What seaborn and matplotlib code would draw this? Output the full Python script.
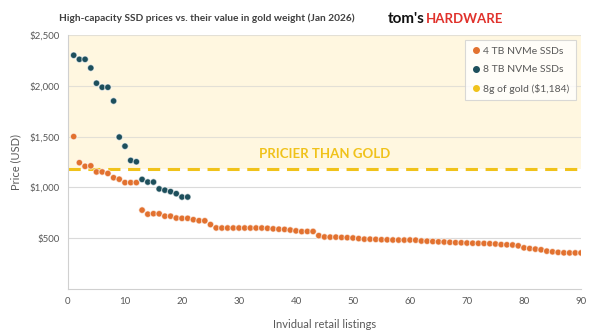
import numpy as np
import pandas as pd
import matplotlib
matplotlib.use("Agg")
import matplotlib.pyplot as plt
from matplotlib.lines import Line2D
import seaborn as sns

# ---- data ----
tb8_prices = [2300, 2260, 2260, 2175, 2025, 1985, 1985, 1850, 1495, 1405,
              1265, 1252, 1078, 1052, 1052, 985, 972, 958, 938, 905, 905]
tb4_prices = [1500, 1243, 1207, 1212, 1152, 1152, 1137, 1095, 1080, 1047,
              1047, 1047, 776, 736, 741, 740, 716, 716, 698, 695,
              695, 682, 672, 671, 634, 601, 600, 600, 600, 600,
              600, 600, 600, 600, 597, 592, 588, 586, 580, 572,
              565, 566, 566, 525, 512, 510, 510, 507, 505, 502,
              496, 490, 490, 488, 485, 484, 482, 481, 481, 482,
              480, 472, 470, 467, 464, 462, 459, 456, 455, 452,
              450, 449, 448, 446, 443, 437, 435, 433, 425, 405,
              398, 392, 386, 372, 366, 360, 356, 355, 355, 355]
gold_price = 1184
series_names = ["4 TB NVMe SSDs", "8 TB NVMe SSDs", "8g of gold ($1,184)"]
y_ticks = [500, 1000, 1500, 2000, 2500]
y_tick_labels = ["$500", "$1,000", "$1,500", "$2,000", "$2,500"]
x_ticks = [0, 10, 20, 30, 40, 50, 60, 70, 80, 90]

df = pd.concat([
    pd.DataFrame({"listing": np.arange(1, len(tb4_prices) + 1), "price": tb4_prices, "series": series_names[0]}),
    pd.DataFrame({"listing": np.arange(1, len(tb8_prices) + 1), "price": tb8_prices, "series": series_names[1]}),
])

c4 = "#E2712F"
c8 = "#1D4F5C"
cgold = "#F0C21A"

sns.set_theme(style="white")
plt.rcParams["font.family"] = ["Lato", "DejaVu Sans"]

fig = plt.figure(figsize=(6, 3.36), dpi=100)
ax = fig.add_axes([0.1133, 0.140, 0.855, 0.756])

ax.set_xlim(0, 90)
ax.set_ylim(0, 2500)

# shaded "pricier than gold" region
ax.axhspan(gold_price, 2500, color="#FFF7E0", zorder=0, lw=0)
for t in y_ticks:
    ax.axhline(t, color="#E3E0D6" if t > gold_price else "#DADADA", lw=0.8, zorder=1)
ax.axhline(gold_price, color=cgold, lw=2.2, ls=(0, (4, 2.5)), zorder=2)
ax.text(45, 1330, "PRICIER THAN GOLD", color=cgold, fontsize=9.5, fontweight="bold",
        ha="center", va="center", zorder=3)

sns.scatterplot(data=df, x="listing", y="price", hue="series",
                palette={series_names[0]: c4, series_names[1]: c8},
                s=22, linewidth=0.8, edgecolor=(1, 1, 1, 0.6), ax=ax, legend=False, zorder=4)

ax.set_yticks(y_ticks)
ax.set_yticklabels(y_tick_labels)
ax.set_xticks(x_ticks)
ax.tick_params(axis="both", labelsize=7, colors="#595959", length=0, pad=6)
ax.set_xlabel("Invidual retail listings", fontsize=8, color="#595959", labelpad=9)
ax.set_ylabel("Price (USD)", fontsize=8, color="#595959", labelpad=6)

for s in ["top", "right"]:
    ax.spines[s].set_visible(False)
for s in ["left", "bottom"]:
    ax.spines[s].set_color("#D0D0D0")
    ax.spines[s].set_linewidth(0.8)

handles = [Line2D([0], [0], marker="o", ls="", color=c, markersize=4)
           for c in (c4, c8, cgold)]
leg = ax.legend(handles, series_names, loc="upper right", fontsize=7.5,
                frameon=True, fancybox=False, borderpad=0.6, labelspacing=0.9,
                handletextpad=0.2, handlelength=1.0, bbox_to_anchor=(1.0, 1.0))
leg.get_frame().set_edgecolor("#D0D0D0")
leg.get_frame().set_linewidth(0.8)
for t in leg.get_texts():
    t.set_color("#595959")

fig.text(0.098, 0.945, "High-capacity SSD prices vs. their value in gold weight (Jan 2026)",
         fontsize=7.3, fontweight="bold", color="#404040", ha="left", va="center")

# logo: place "HARDWARE" right after "tom's"
t1 = fig.text(388 / 600, 0.942, "tom's", fontsize=11, fontweight="bold", color="#111111",
              ha="left", va="center")
fig.canvas.draw()
bb = t1.get_window_extent(renderer=fig.canvas.get_renderer())
x_next = (bb.x1 + 1) / fig.bbox.width
fig.text(x_next, 0.942, "HARDWARE", fontsize=9.5, fontweight="bold", color="#E0312B",
         ha="left", va="center", fontstretch="condensed")

fig.savefig("out.png", dpi=100)
